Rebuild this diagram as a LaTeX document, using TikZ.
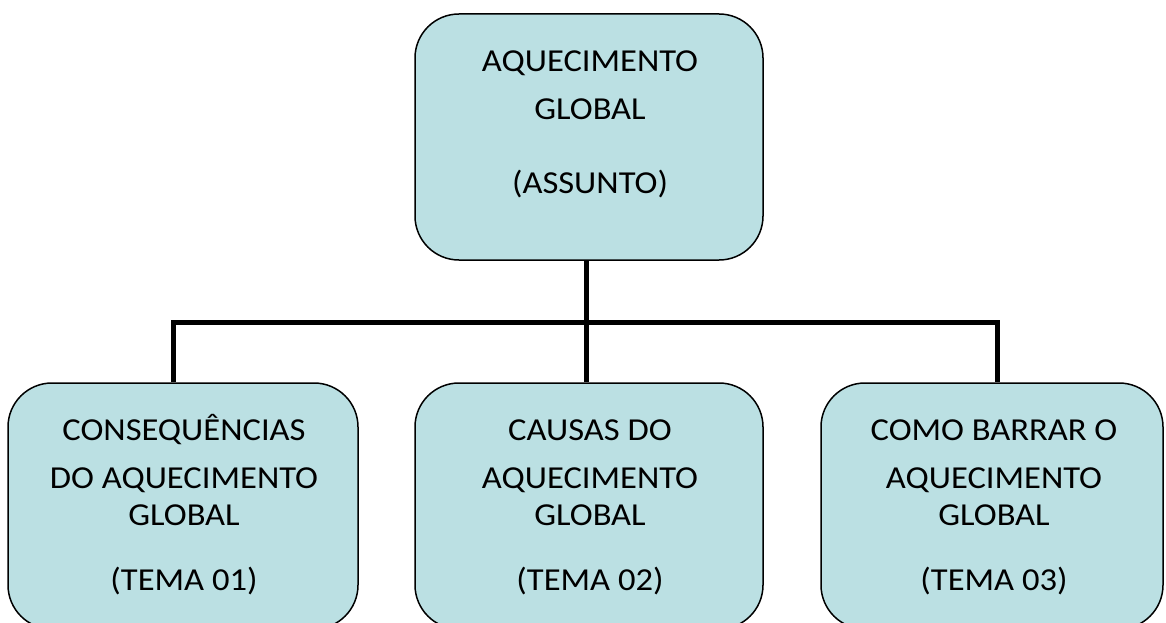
\documentclass[tikz,border=0pt]{standalone}
\usepackage{fontspec}
\setmainfont{Carlito}[FakeStretch=1.08]
\definecolor{boxfill}{HTML}{BBE0E3}
\begin{document}
\begin{tikzpicture}[x=1pt,y=-1pt,
  box/.style={draw=black, line width=1.5pt, fill=boxfill, rounded corners=44pt, inner sep=0pt},
  txt/.style={anchor=base, font=\fontsize{32}{40}\selectfont, inner sep=0pt},
  conn/.style={draw=black, line width=5pt}]
\useasboundingbox (0,0) rectangle (1166,623);
\clip (0,0) rectangle (1166,623);
\node[box, minimum width=348pt, minimum height=246pt] (top) at (589,137) {};
\node[box, minimum width=350pt, minimum height=246pt] (b1) at (183,506) {};
\node[box, minimum width=348pt, minimum height=246pt] (b2) at (589,506) {};
\node[box, minimum width=342pt, minimum height=246pt] (b3) at (992,506) {};
% top box text
\node[txt] (ta) at (590,72) {AQUECIMENTO};
\node[txt] (tb) at (590,120) {GLOBAL};
\node[txt] (tc) at (590,193) {(ASSUNTO)};
% box 1
\node[txt] (a1) at (184,440) {CONSEQUÊNCIAS};
\node[txt] (a2) at (184,488) {DO AQUECIMENTO};
\node[txt] (a3) at (184,525) {GLOBAL};
\node[txt] (a4) at (184,590) {(TEMA 01)};
% box 2
\node[txt] (m1) at (590,440) {CAUSAS DO};
\node[txt] (m2) at (590,488) {AQUECIMENTO};
\node[txt] (m3) at (590,525) {GLOBAL};
\node[txt] (m4) at (590,590) {(TEMA 02)};
% box 3
\node[txt] (r1) at (994,440) {COMO BARRAR O};
\node[txt] (r2) at (994,488) {AQUECIMENTO};
\node[txt] (r3) at (994,525) {GLOBAL};
\node[txt] (r4) at (994,590) {(TEMA 03)};
\draw[conn] ([xshift=-3pt]top.south) -- ([xshift=-3pt]b2.north);
\draw[conn] ([xshift=-10pt]b1.north) -- ++(0,-60) -| ([xshift=5pt]b3.north);
\end{tikzpicture}
\end{document}
